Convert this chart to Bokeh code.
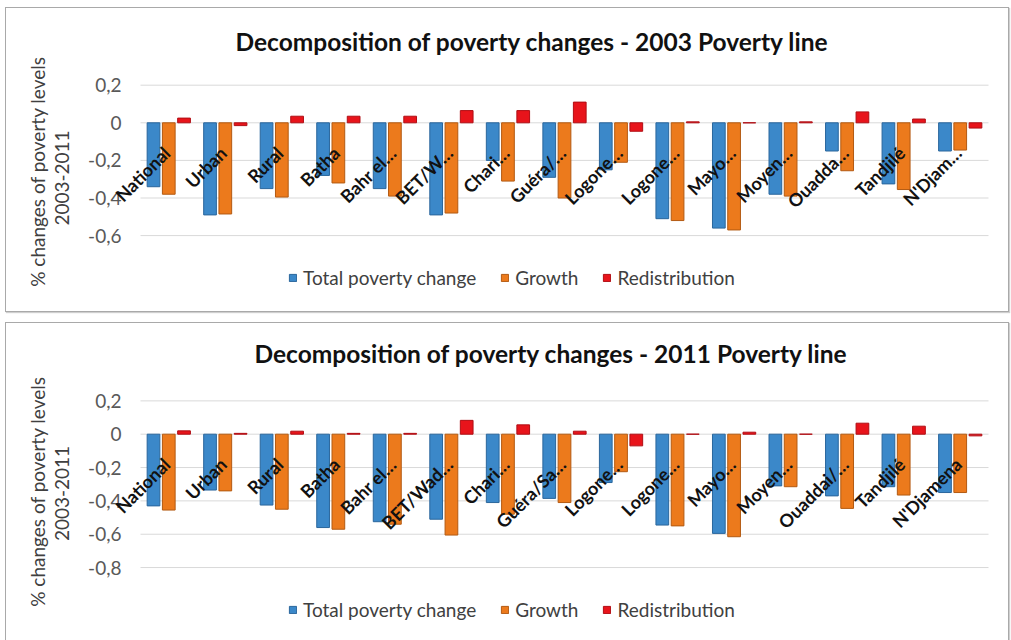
import math
from bokeh.plotting import figure
from bokeh.models import (ColumnDataSource, Range1d, LabelSet, Label, Legend, LegendItem)
from bokeh.core.properties import value
from bokeh.layouts import column
from bokeh.embed import file_html
from bokeh.resources import INLINE

categories = ["National", "Urban", "Rural", "Batha", "Bahr el Gazal", "BET/Wadi Fira",
              "Chari Baguirmi", "Guéra/Salamat", "Logone Occidental", "Logone Oriental",
              "Mayo Kebbi", "Moyen Chari", "Ouaddai/Sila", "Tandjilé", "N'Djamena"]

labels_2003 = ["National", "Urban", "Rural", "Batha", "Bahr el…", "BET/W…", "Chari…", "Guéra/…",
               "Logone…", "Logone…", "Mayo…", "Moyen…", "Ouadda…", "Tandjilé", "N'Djam…"]
labels_2011 = ["National", "Urban", "Rural", "Batha", "Bahr el…", "BET/Wad…", "Chari…", "Guéra/Sa…",
               "Logone…", "Logone…", "Mayo…", "Moyen…", "Ouaddai/…", "Tandjilé", "N'Djamena"]

total_2003 = [-0.34, -0.49, -0.35, -0.28, -0.35, -0.49, -0.20, -0.29, -0.25, -0.51, -0.56, -0.38, -0.15, -0.325, -0.15]
growth_2003 = [-0.38, -0.485, -0.395, -0.32, -0.39, -0.48, -0.31, -0.40, -0.21, -0.52, -0.57, -0.39, -0.255, -0.355, -0.145]
redis_2003 = [0.025, -0.015, 0.035, 0.035, 0.035, 0.065, 0.065, 0.11, -0.045, 0.005, 0.0, 0.005, 0.058, 0.02, -0.028]

total_2011 = [-0.43, -0.335, -0.425, -0.56, -0.525, -0.51, -0.41, -0.385, -0.29, -0.545, -0.595, -0.31, -0.37, -0.315, -0.35]
growth_2011 = [-0.455, -0.34, -0.45, -0.57, -0.54, -0.605, -0.48, -0.41, -0.225, -0.55, -0.615, -0.315, -0.445, -0.365, -0.35]
redis_2011 = [0.02, 0.005, 0.018, 0.005, 0.005, 0.083, 0.056, 0.018, -0.07, 0.0, 0.012, 0.0, 0.066, 0.048, -0.01]

yticks_2003 = [-0.6, -0.4, -0.2, 0.0, 0.2]
ylabels_2003 = ["-0,6", "-0,4", "-0,2", "0", "0,2"]
yticks_2011 = [-0.8, -0.6, -0.4, -0.2, 0.0, 0.2]
ylabels_2011 = ["-0,8", "-0,6", "-0,4", "-0,2", "0", "0,2"]

series_names = ["Total poverty change", "Growth", "Redistribution"]
title_2003 = "Decomposition  of poverty changes - 2003 Poverty line"
title_2011 = "Decomposition  of poverty changes - 2011 Poverty line"
ylabel_line1 = "% changes of poverty levels"
ylabel_line2 = "2003-2011"

FILL = ["#3B88C9", "#EC7A1C", "#E8141B"]
EDGE = ["#2A669C", "#B35A12", "#B00E14"]
FONT = "Lato"

# layout constants (pixels)
W = 1004
PLOT_LEFT = 134          # left edge of category area within the canvas
CAT_W = 848 / 15         # pixel width of one category slot


def make_panel(title, total, growth, redis, labels, yticks, ylabels, height, zero_px, px_per_unit,
               margin_top, title_pos, yl1_pos, yl2_pos, legend_pos):
    n = len(categories)
    pos = [i + 0.5 for i in range(n)]
    src = ColumnDataSource(dict(pos=pos, total=total, growth=growth, redis=redis,
                                label=labels, zero=[0.0] * n))
    x0 = -PLOT_LEFT / CAT_W
    ytop = zero_px / px_per_unit
    p = figure(x_range=Range1d(x0, x0 + W / CAT_W), y_range=Range1d(ytop - height / px_per_unit, ytop),
               width=W, height=height, output_backend="svg", toolbar_location=None,
               min_border_left=0, min_border_right=0, min_border_top=0, min_border_bottom=0)
    p.margin = (margin_top, 0, 0, 5)
    p.styles = {"border": "1px solid #A9A9A9", "box-shadow": "1px 1px 1px #CFCFCF"}
    p.outline_line_color = None
    p.xaxis.visible = False
    p.yaxis.visible = False
    p.xgrid.grid_line_color = None
    p.ygrid.grid_line_color = None

    # horizontal gridlines spanning the category area only
    p.segment(x0=[0] * len(yticks), x1=[n] * len(yticks), y0=yticks, y1=yticks,
              line_color="#D9D9D9", line_width=1)

    # y tick labels
    tsrc = ColumnDataSource(dict(y=yticks, text=ylabels, x=[PLOT_LEFT - 19] * len(yticks)))
    p.add_layout(LabelSet(x="x", y="y", text="text", source=tsrc, x_units="screen", y_units="data",
                          text_align="right", text_baseline="middle", text_font=value(FONT),
                          text_font_size="19px", text_color="#595959"))

    # y axis title (two lines)
    for txt, (lx, ly) in [(ylabel_line1, yl1_pos), (ylabel_line2, yl2_pos)]:
        p.add_layout(Label(x=lx, y=height - ly, x_units="screen", y_units="screen", text=txt,
                           angle=math.pi / 2, text_align="center", text_baseline="middle",
                           text_font=FONT, text_font_size="19px", text_color="#404040"))

    # chart title
    p.add_layout(Label(x=title_pos[0], y=height - title_pos[1], x_units="screen", y_units="screen",
                       text=title, text_align="left", text_baseline="middle", text_font=FONT,
                       text_font_size="24.5px", text_font_style="bold", text_color="#111111"))

    renderers = []
    for key, off, fc, ec in zip(["total", "growth", "redis"], [-0.27, 0.0, 0.27], FILL, EDGE):
        src.data[key + "_x"] = [v + off for v in pos]
        r = p.vbar(x=key + "_x", top=key, bottom=0, width=0.225,
                   source=src, fill_color=fc, line_color=ec, line_width=1)
        renderers.append(r)

    labs = LabelSet(x="pos", y="zero", text="label", source=src,
                    angle=math.pi / 4, text_align="right", text_baseline="middle",
                    x_offset=-2, y_offset=-27, text_font=value(FONT), text_font_size="18px",
                    text_font_style="bold", text_color="#111111")
    p.add_layout(labs)

    legend = Legend(items=[LegendItem(label=s, renderers=[r]) for s, r in zip(series_names, renderers)],
                    orientation="horizontal", location=(legend_pos[0], height - legend_pos[1]),
                    padding=0, margin=0,
                    spacing=24, label_standoff=6, glyph_width=9, glyph_height=9,
                    label_text_font=FONT, label_text_font_size="19px", label_text_color="#404040",
                    background_fill_alpha=0, border_line_color=None)
    p.add_layout(legend)
    return p


# positions below are measured from the top-left of each panel's canvas
p1 = make_panel(title_2003, total_2003, growth_2003, redis_2003, labels_2003, yticks_2003, ylabels_2003,
                305, 114.3, 188.0, 7,
                title_pos=(229, 33), yl1_pos=(31, 163), yl2_pos=(55, 169.5), legend_pos=(282, 281))
p2 = make_panel(title_2011, total_2011, growth_2011, redis_2011, labels_2011, yticks_2011, ylabels_2011,
                322, 110.7, 166.7, 10,
                title_pos=(248, 30), yl1_pos=(31, 168), yl2_pos=(55, 170), legend_pos=(282, 298))

layout = column(p1, p2, spacing=0)
open("out.html", "w").write(file_html(layout, INLINE))
